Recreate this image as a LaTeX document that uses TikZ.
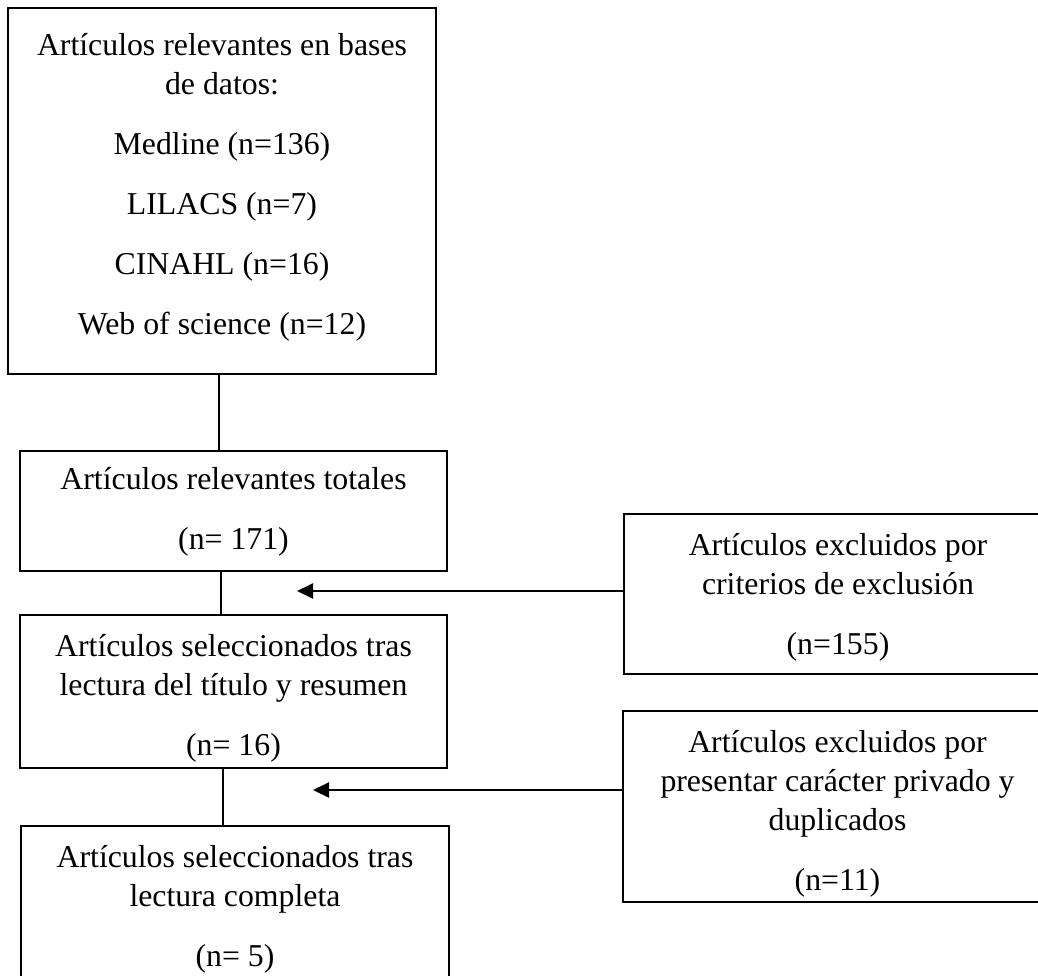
\documentclass[tikz,border=0pt]{standalone}
\usepackage{fontspec}
\setmainfont{Liberation Serif}
\usepackage{tikz}
\usetikzlibrary{arrows.meta}

\begin{document}
\begin{tikzpicture}[caja/.style={draw, line width=1pt, inner sep=0pt},
  texto/.style={align=center, inner sep=0pt, font=\fontsize{15.9}{19.5}\selectfont},
  flecha/.style={line width=1pt, -{Triangle[length=8pt,width=7.5pt]}}]
  \useasboundingbox (0pt, 0pt) rectangle (519pt, -487.5pt);
  \draw (111.0pt, -95.5pt)node[caja, minimum width=214pt, minimum height=183pt,
    label={[texto, yshift=2pt]center:{Artículos relevantes en bases\\ de datos:\\[10.5pt] Medline (n=136)\\[10.5pt] LILACS (n=7)\\[10.5pt] CINAHL (n=16)\\[10.5pt] Web of science (n=12)}}](bases){};
  \draw (116.75pt, -255.5pt)node[caja, minimum width=213.5pt, minimum height=60pt,
    label={[texto, yshift=-0.5pt]center:{Artículos relevantes totales\\[10.5pt] (n= 171)}}](totales){};
  \draw (116.75pt, -345.75pt)node[caja, minimum width=213.5pt, minimum height=76.5pt,
    label={[texto, yshift=-3.5pt]center:{Artículos seleccionados tras\\ lectura del título y resumen\\[10.5pt] (n= 16)}}](titulo){};
  \draw (117.5pt, -454.5pt)node[caja, minimum width=214pt, minimum height=83pt,
    label={[texto]center:{Artículos seleccionados tras\\ lectura completa\\[10.5pt] (n= 5)}}](completa){};
  \draw (419.0pt, -297.0pt)node[caja, minimum width=214pt, minimum height=80pt,
    label={[texto, yshift=-1.5pt]center:{Artículos excluidos por\\ criterios de exclusión\\[10.5pt] (n=155)}}](criterios){};
  \draw (418.75pt, -403.25pt)node[caja, minimum width=214.5pt, minimum height=95.5pt,
    label={[texto, yshift=-3.5pt]center:{Artículos excluidos por\\ presentar carácter privado y\\ duplicados\\[10.5pt] (n=11)}}](privado){};
  \coordinate (fin1) at (148.5pt, -295.5pt);
  \coordinate (fin2) at (156.5pt, -395.0pt);
  \draw[line width=1pt] ([xshift=-1.5pt]bases.south) -- ([xshift=-1.5pt]bases.south |- totales.north);
  \draw[line width=1pt] ([xshift=-6.25pt]totales.south) -- ([xshift=-6.25pt]totales.south |- titulo.north);
  \draw[line width=1pt] ([xshift=-5.25pt]titulo.south) -- ([xshift=-5.25pt]titulo.south |- completa.north);
  \draw[flecha] (criterios.west |- fin1) -- (fin1);
  \draw[flecha] (privado.west |- fin2) -- (fin2);
\end{tikzpicture}
\end{document}
